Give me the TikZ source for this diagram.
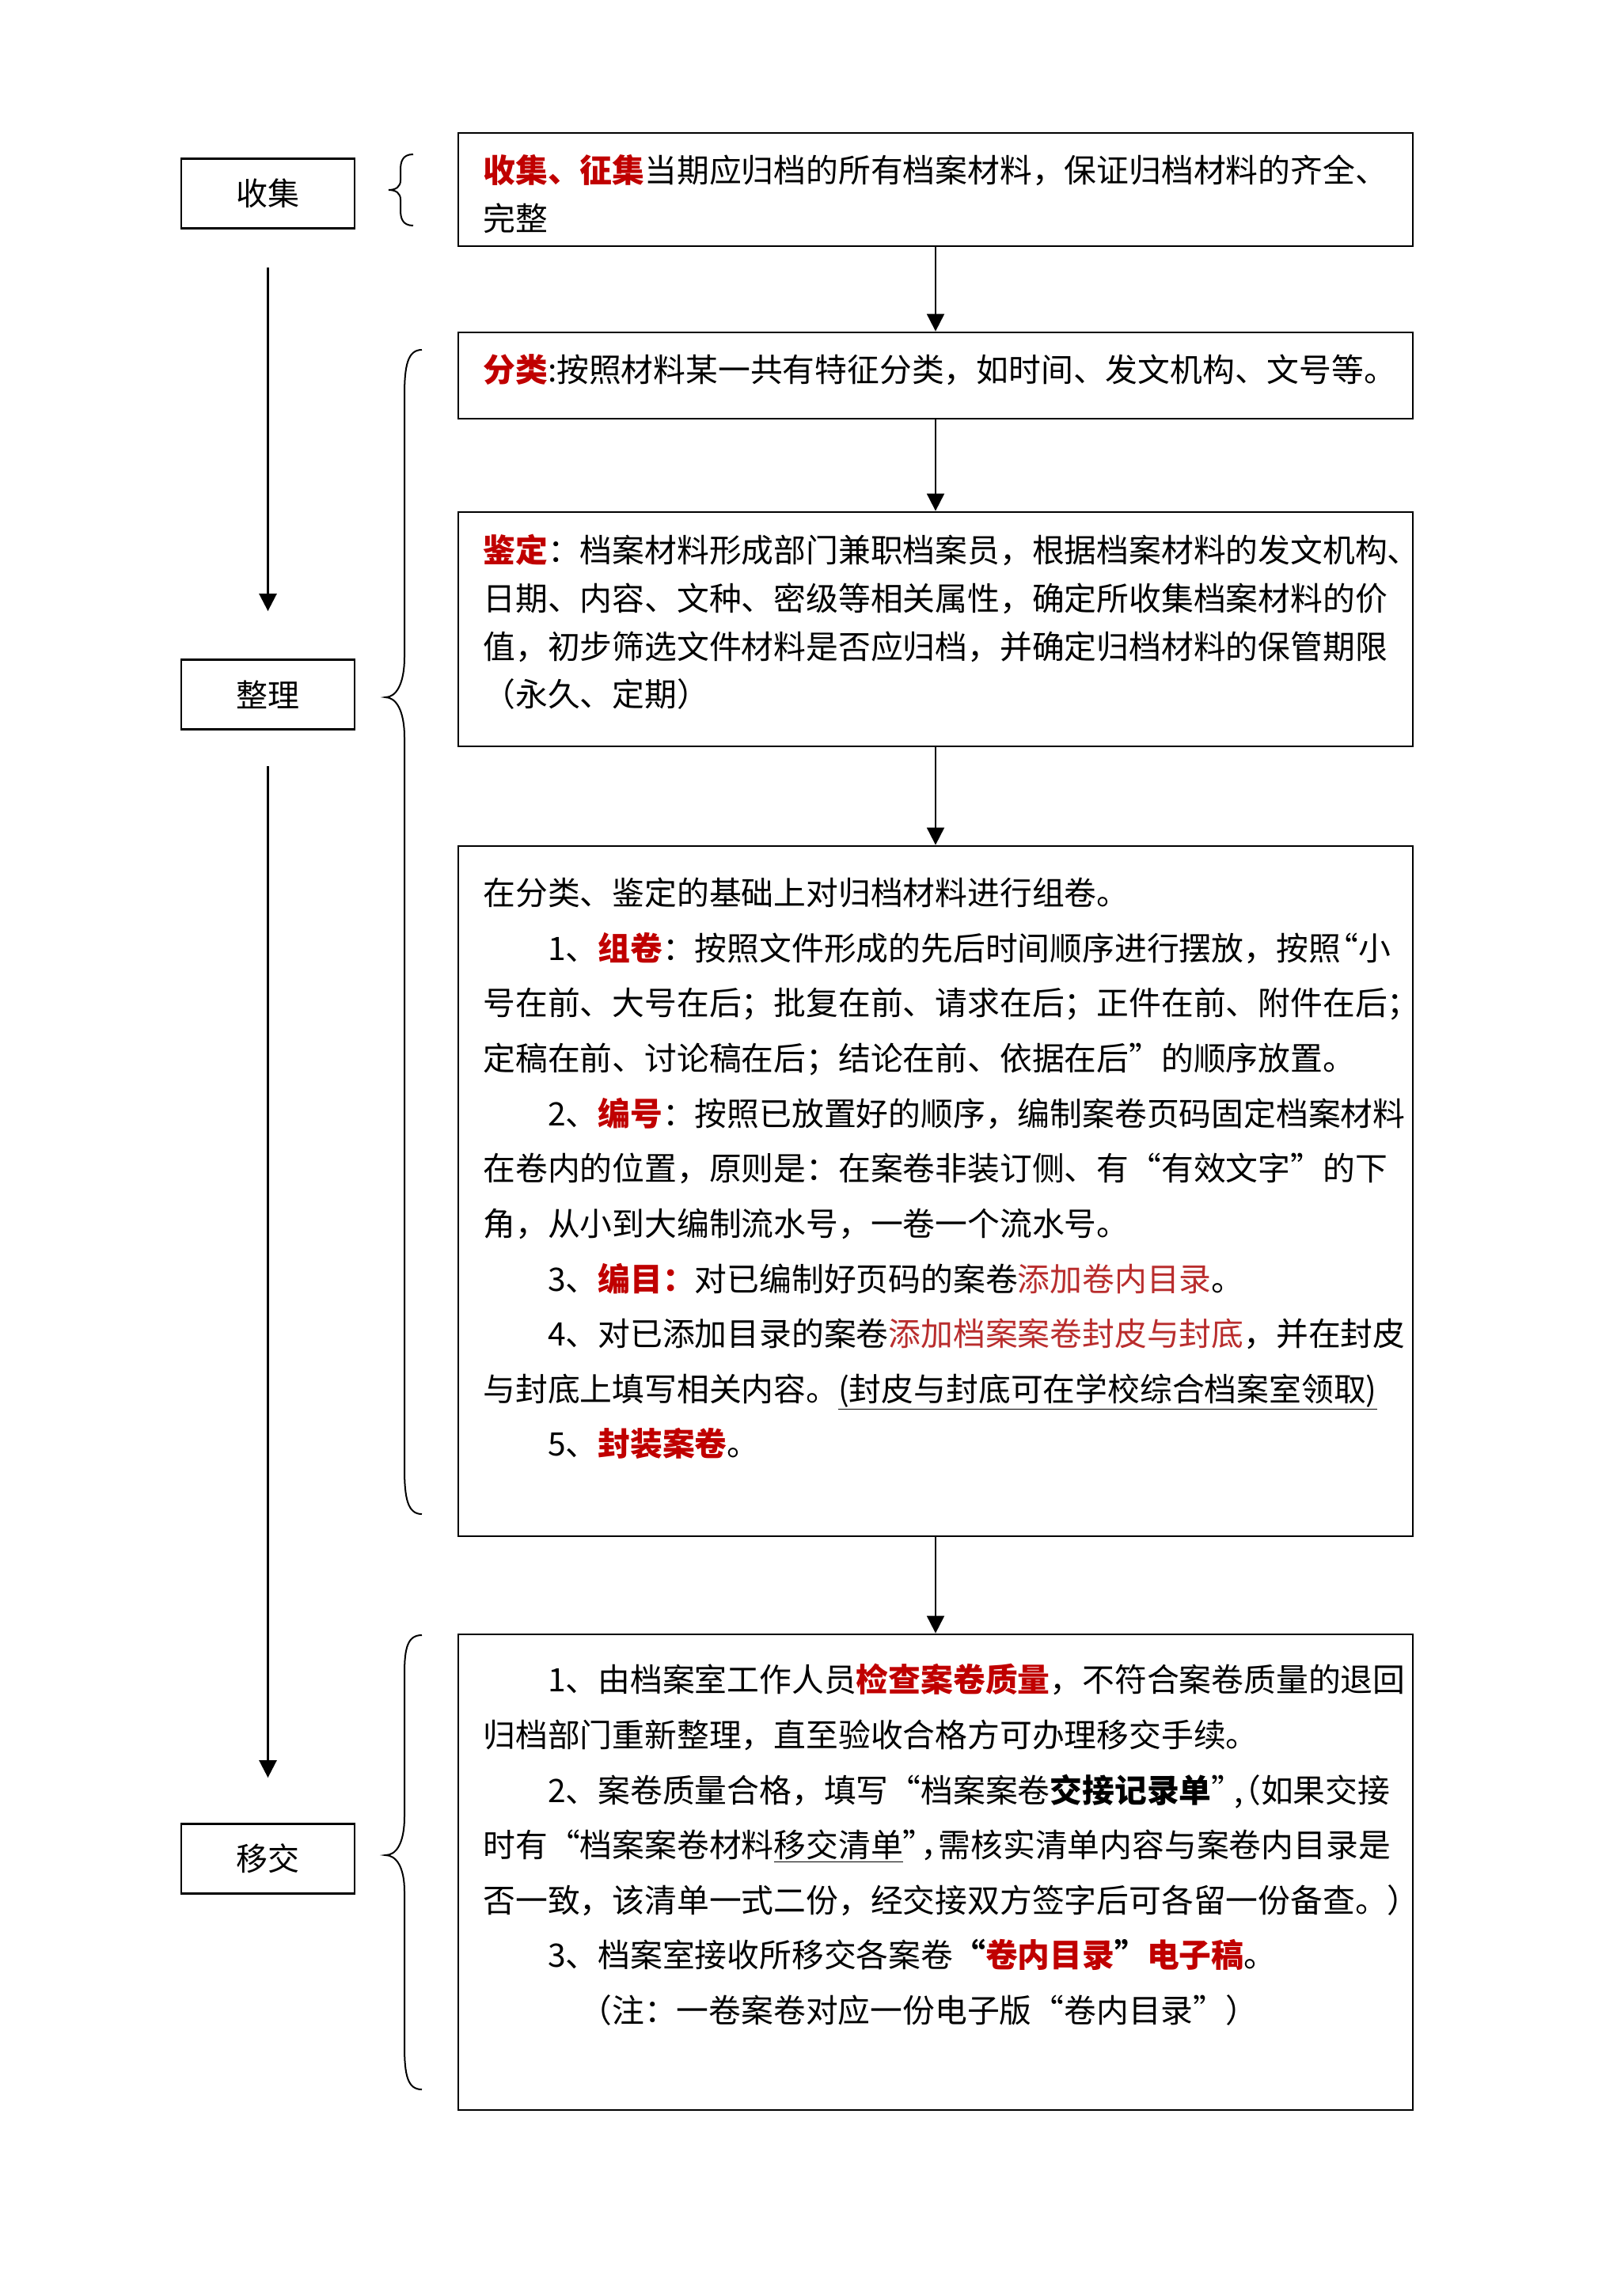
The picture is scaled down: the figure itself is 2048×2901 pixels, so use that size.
\documentclass[tikz,border=0pt]{standalone}
\usepackage{fontspec}
\newfontfamily\cjk{Noto Sans CJK SC}
\usetikzlibrary{arrows.meta}
\definecolor{kred}{RGB}{192,0,0}
\definecolor{sred}{RGB}{185,45,45}
\newcommand{\kr}[1]{\textcolor{kred}{\textbf{#1}}}
\newcommand{\sr}[1]{\textcolor{sred}{#1}}
\begin{document}
\begin{tikzpicture}[x=0.5pt,y=-0.5pt,
  box/.style={draw, line width=1.4pt, inner sep=0pt, minimum width=603pt},
  lab/.style={draw, line width=1.4pt, inner sep=0pt, minimum width=109.5pt, minimum height=44pt, font=\cjk\fontsize{20}{24}\selectfont},
  ln/.style={anchor=base west, inner sep=0pt, font=\cjk\fontsize{20.4}{24}\selectfont},
  arr/.style={-{Triangle[length=11pt,width=11pt]}, line width=1pt},
  larr/.style={-{Triangle[length=11pt,width=11pt]}, line width=1.3pt},
  brc/.style={line width=1pt}
]
\fill[white] (0,0) rectangle (2048,2901);
\useasboundingbox (0,0) rectangle (2048,2901);

% left labels
\node[lab] (c1) at (338.5,244.5) {收集};
\node[lab] (c2) at (338.5,877.5) {整理};
\node[lab] (c3) at (338.5,2348.5) {移交};
\draw[larr, shorten <=24pt, shorten >=30pt] (c1.south) -- (c2.north);
\draw[larr, shorten <=22.5pt, shorten >=28.5pt] (c2.south) -- (c3.north);

% right boxes
\node[box, minimum height=71.5pt] (b1) at (1182,239.5) {};
\node[box, minimum height=54.5pt] (b2) at (1182,474.5) {};
\node[box, minimum height=148pt] (b3) at (1182,795) {};
\node[box, minimum height=436pt] (b4) at (1182,1505) {};
\node[box, minimum height=300.5pt] (b5) at (1182,2365.5) {};
\draw[arr] (b1.south) -- (b2.north);
\draw[arr] (b2.south) -- (b3.north);
\draw[arr] (b3.south) -- (b4.north);
\draw[arr] (b4.south) -- (b5.north);

% braces
\draw[brc] (522,195) .. controls (508,195) and (506,205) .. (506,215) -- (506,228)
  .. controls (506,236) and (500,240) .. (491,240)
  .. controls (500,240) and (506,244) .. (506,252) -- (506,265)
  .. controls (506,275) and (508,285) .. (522,285);
\draw[brc] (533,442) .. controls (515,442) and (511,462) .. (511,500) -- (511,830)
  .. controls (511,865) and (500,881) .. (487,881)
  .. controls (500,881) and (511,897) .. (511,932) -- (511,1855)
  .. controls (511,1893) and (515,1913) .. (533,1913);
\draw[brc] (533,2066) .. controls (515,2066) and (511,2082) .. (511,2115) -- (511,2295)
  .. controls (511,2330) and (500,2344) .. (487,2344)
  .. controls (500,2344) and (511,2358) .. (511,2390) -- (511,2585)
  .. controls (511,2622) and (515,2640) .. (533,2640);

% box 1 text
\node[ln] (t1a) at (610,230.5) {\kr{收集、征集}当期应归档的所有档案材料，保证归档材料的齐全、};
\node[ln] (t1b) at (610,291.5) {完整};
% box 2 text
\node[ln] (t2a) at (610,482) {\kr{分类}:按照材料某一共有特征分类，如时间、发文机构、文号等。};
% box 3 text
\node[ln] (t3a) at (610,710.5) {\kr{鉴定}：档案材料形成部门兼职档案员，根据档案材料的发文机构、};
\node[ln] (t3b) at (610,771.5) {日期、内容、文种、密级等相关属性，确定所收集档案材料的价};
\node[ln] (t3c) at (610,832.5) {值，初步筛选文件材料是否应归档，并确定归档材料的保管期限};
\node[ln] (t3d) at (610,892.5) {（永久、定期）};
% box 4 text
\node[ln] (t4a) at (610,1143.5) {在分类、鉴定的基础上对归档材料进行组卷。};
\node[ln] (t4b) at (691.6,1213) {1、\kr{组卷}：按照文件形成的先后时间顺序进行摆放，按照\kern-0.45em“小};
\node[ln] (t4c) at (610,1282.5) {号在前、大号在后；批复在前、请求在后；正件在前、附件在后；};
\node[ln] (t4d) at (610,1352) {定稿在前、讨论稿在后；结论在前、依据在后”的顺序放置。};
\node[ln] (t4e) at (691.6,1422) {2、\kr{编号}：按照已放置好的顺序，编制案卷页码固定档案材料};
\node[ln] (t4f) at (610,1491.5) {在卷内的位置，原则是：在案卷非装订侧、有“有效文字”的下};
\node[ln] (t4g) at (610,1561) {角，从小到大编制流水号，一卷一个流水号。};
\node[ln] (t4h) at (691.6,1631) {3、\kr{编目：}对已编制好页码的案卷\sr{添加卷内目录}。};
\node[ln] (t4i) at (691.6,1700.5) {4、对已添加目录的案卷\sr{添加档案案卷封皮与封底}，并在封皮};
\node[ln] (t4j) at (610,1770) {与封底上填写相关内容。\underline{(封皮与封底可在学校综合档案室领取)}};
\node[ln] (t4k) at (691.6,1839.5) {5、\kr{封装案卷}。};
% box 5 text
\node[ln] (t5a) at (691.6,2137.5) {1、由档案室工作人员\kr{检查案卷质量}，不符合案卷质量的退回};
\node[ln] (t5b) at (610,2207) {归档部门重新整理，直至验收合格方可办理移交手续。};
\node[ln] (t5c) at (691.6,2277) {2、案卷质量合格，填写“档案案卷\textbf{交接记录单}”\kern-0.3em,\kern-0.45em（如果交接};
\node[ln] (t5d) at (610,2346.5) {时有“档案案卷材料\underline{移交清单}”\kern-0.45em，\kern-0.45em需核实清单内容与案卷内目录是};
\node[ln] (t5e) at (610,2416) {否一致，该清单一式二份，经交接双方签字后可各留一份备查。）};
\node[ln] (t5f) at (691.6,2485.5) {3、档案室接收所移交各案卷\textbf{“}\kr{卷内目录}\textbf{”}\kr{电子稿}。};
\node[ln] (t5g) at (732,2555.5) {（注：一卷案卷对应一份电子版“卷内目录”）};
\end{tikzpicture}
\end{document}
